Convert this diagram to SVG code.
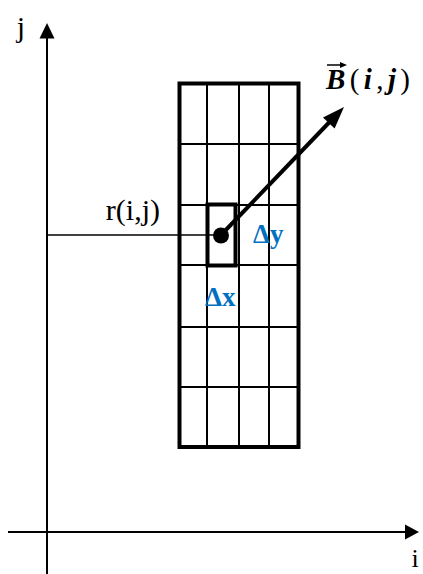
<svg xmlns="http://www.w3.org/2000/svg" width="423" height="574" viewBox="0 0 423 574">
<style>
.ax{stroke:#000;stroke-width:2;fill:none}
.thin{stroke:#000;stroke-width:2;fill:none}
.thick{stroke:#000;stroke-width:4;fill:none}
.lbl{font-family:"Liberation Serif",serif;fill:#000}
.blue{font-family:"Liberation Serif",serif;font-weight:bold;fill:#0070C0;font-size:27px}
</style>
<rect width="423" height="574" fill="#fff"/>
<g id="axes">
<line class="ax" x1="47" y1="574" x2="47" y2="36"/>
<polygon points="47,23 39.5,38.5 54.5,38.5" fill="#000"/>
<line class="ax" x1="8" y1="532" x2="407" y2="532"/>
<polygon points="419,532 405,524.5 405,539.5" fill="#000"/>
<text class="lbl" x="21" y="37" font-size="30" text-anchor="middle">j</text>
<text class="lbl" x="415" y="567" font-size="26" text-anchor="middle">i</text>
</g>
<g id="grid">
<line class="thin" x1="207" y1="83.5" x2="207" y2="447"/>
<line class="thin" x1="239" y1="83.5" x2="239" y2="447"/>
<line class="thin" x1="269" y1="83.5" x2="269" y2="447"/>
<line class="thin" x1="179.5" y1="144" x2="298.5" y2="144"/>
<line class="thin" x1="179.5" y1="205" x2="298.5" y2="205"/>
<line class="thin" x1="179.5" y1="265" x2="298.5" y2="265"/>
<line class="thin" x1="179.5" y1="327" x2="298.5" y2="327"/>
<line class="thin" x1="179.5" y1="387" x2="298.5" y2="387"/>
<rect class="thick" x="179.5" y="83.5" width="119" height="363.5"/>
</g>
<g id="cell">
<rect class="thick" x="207.5" y="204.5" width="28" height="61"/>
<text class="blue" x="205" y="306">Δx</text>
<text class="blue" x="253" y="243">Δy</text>
</g>
<g id="connectors">
<line x1="47" y1="235" x2="221" y2="235" stroke="#000" stroke-width="1.5"/>
<line x1="221" y1="235" x2="331" y2="120.5" stroke="#000" stroke-width="4"/>
<polygon points="344,107 334.6,128.4 323,117.4" fill="#000"/>
</g>
<g id="point">
<circle cx="221" cy="235.5" r="8" fill="#000"/>
<text class="lbl" x="160" y="220" font-size="30" text-anchor="end">r(i,j)</text>
</g>
<g id="Blabel">
<line x1="327" y1="65" x2="342" y2="65" stroke="#000" stroke-width="1.5"/>
<polygon points="347,65 340,62 340,68" fill="#000"/>
<text class="lbl" x="326" y="89" font-size="29" textLength="84" lengthAdjust="spacing"><tspan font-weight="bold" font-style="italic">B</tspan>(<tspan font-weight="bold" font-style="italic">i</tspan>,<tspan font-weight="bold" font-style="italic">j</tspan>)</text>
</g>
</svg>
